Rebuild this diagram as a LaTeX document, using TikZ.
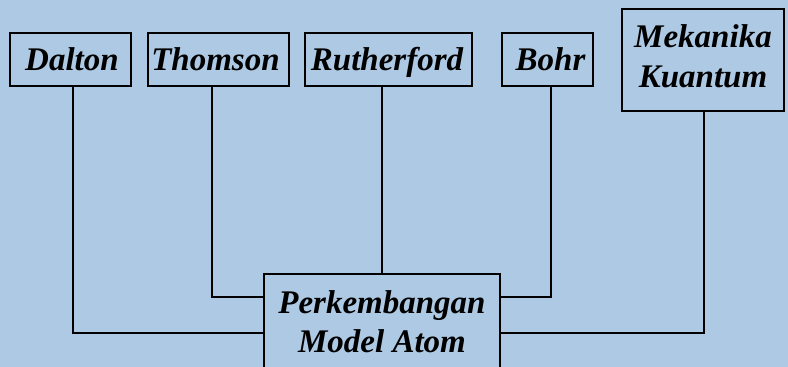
\documentclass[tikz,border=0pt]{standalone}
\usepackage{fontspec}
\setmainfont{Liberation Serif}
\definecolor{bgblue}{RGB}{173,201,227}
\tikzset{
  box/.style={draw=black, line width=2pt, fill=bgblue, inner sep=0pt,
    font=\fontsize{33}{40}\selectfont\bfseries\itshape, align=center},
  onebox/.style={box, minimum height=53pt, text height=21pt, text depth=0pt},
  link/.style={draw=black, line width=2pt}
}
\begin{document}
\begin{tikzpicture}[x=1pt,y=-1pt]
\useasboundingbox (0,0) rectangle (788,367);
\clip (0,0) rectangle (788,367);
\fill[bgblue] (0,0) rectangle (788,367);
\node[onebox, minimum width=121pt] (dalton) at (70.5,59.5) {\kern3pt Dalton};
\node[onebox, minimum width=141pt] (thomson) at (218.5,59.5) {Thomson\kern6pt};
\node[onebox, minimum width=167pt] (rutherford) at (388.5,59.5) {Rutherford\kern3pt};
\node[box, minimum width=91pt, minimum height=53pt, text height=21pt, text depth=0pt] (bohr) at (547.5,59.5) {\kern6pt Bohr};
\node[box, minimum width=162pt, minimum height=102pt, text depth=7pt] (mek) at (703,60) {Mekanika\\Kuantum};
\node[box, minimum width=236pt, minimum height=96pt, font=\fontsize{33}{39}\selectfont\bfseries\itshape] (main) at (382,322) {Perkembangan\\Model Atom};
\coordinate (lowL) at (main.west |- 0,333);
\coordinate (midL) at (main.west |- 0,297);
\coordinate (midR) at (main.east |- 0,297);
\coordinate (lowR) at (main.east |- 0,333);
\draw[link] (dalton.south -| 73,0) |- (lowL);
\draw[link] (thomson.south -| 212,0) |- (midL);
\draw[link] (rutherford.south -| 382,0) -- (main.north);
\draw[link] (bohr.south -| 551,0) |- (midR);
\draw[link] (mek.south -| 704,0) |- (lowR);
\end{tikzpicture}
\end{document}
